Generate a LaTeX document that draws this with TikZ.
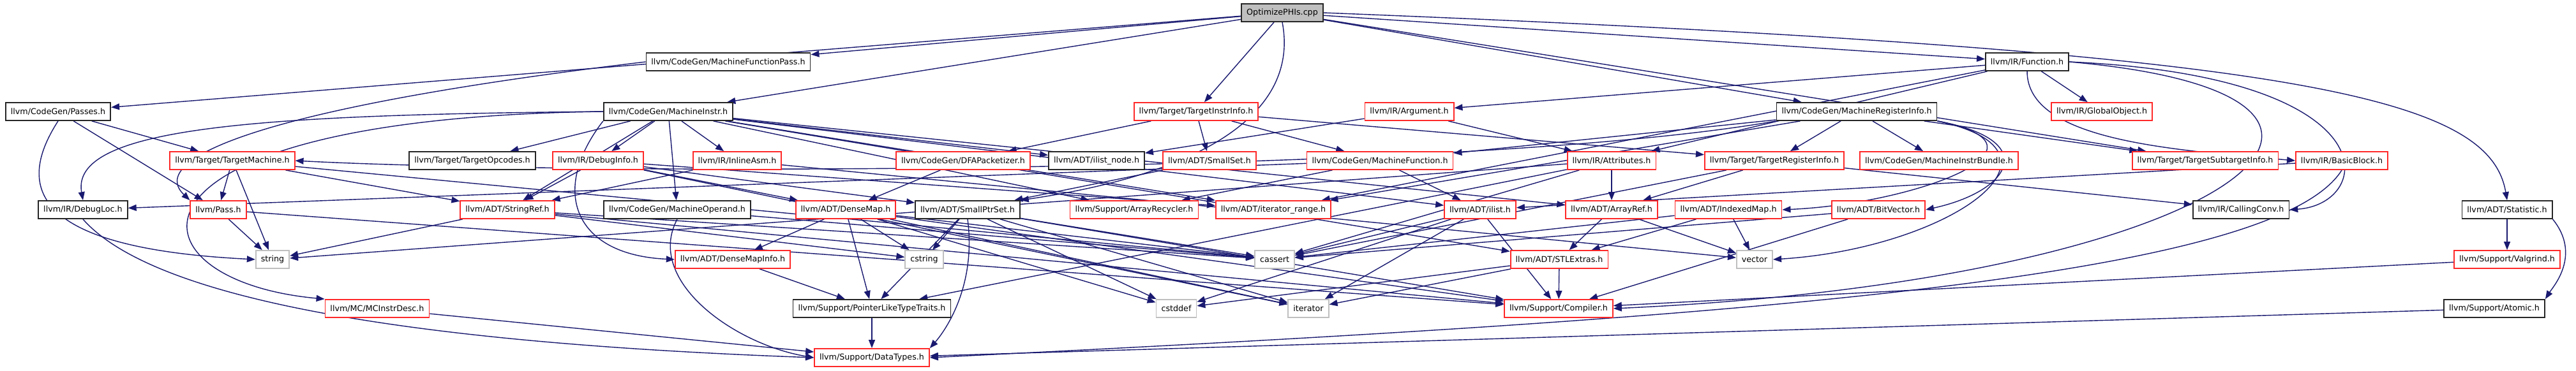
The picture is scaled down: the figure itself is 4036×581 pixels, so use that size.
\documentclass[tikz,border=0pt]{standalone}
\usepackage{fontspec}
\newfontfamily\doxfont{DejaVu Sans}
\usepackage{tikz}
\usetikzlibrary{
  arrows.meta,  % Triangle 箭头
  backgrounds   % 连线放到底层
}
\definecolor{edgeblue}{RGB}{25,25,112}
\definecolor{boxred}{RGB}{255,40,40}
\definecolor{boxgray}{RGB}{191,191,191}

\begin{document}
\begin{tikzpicture}[x=1pt, y=-1pt, >={Triangle[length=13pt,width=10pt]},
    hdr/.style={draw, line width=1.8pt, fill=white, minimum height=28pt,
      inner xsep=8pt, inner ysep=2pt,
      font=\doxfont\fontsize{12.7}{14}\selectfont},
    redhdr/.style={hdr, draw=boxred},
    blkhdr/.style={hdr, draw=black!85},
    syshdr/.style={hdr, draw=boxgray},
    srcfile/.style={hdr, draw=black!85, fill=boxgray},
    incl/.style={->, draw=edgeblue, line width=1.4pt}]
  % 各层的纵坐标
  \def\yA{20}
  \def\yB{97}
  \def\yC{175}
  \def\yD{252}
  \def\yE{329}
  \def\yF{407}
  \def\yG{484}
  \def\yH{561}
  \useasboundingbox (0,0) rectangle (4036,581);

  % --- 第一层：源文件 ---
  \node[srcfile] (root) at (2009,\yA) {OptimizePHIs.cpp};

  % --- 第二层 ---
  \node[blkhdr] (mfp)  at (1141,\yB) {llvm/CodeGen/MachineFunctionPass.h};
  \node[blkhdr] (func) at (3176,\yB) {llvm/IR/Function.h};

  % --- 第三层 ---
  \node[blkhdr] (passes) at (91,\yC)   {llvm/CodeGen/Passes.h};
  \node[blkhdr] (minstr) at (1047,\yC) {llvm/CodeGen/MachineInstr.h};
  \node[redhdr] (tii)    at (1874,\yC) {llvm/Target/TargetInstrInfo.h};
  \node[redhdr] (arg)    at (2208,\yC) {llvm/IR/Argument.h};
  \node[blkhdr] (mri)    at (2909,\yC) {llvm/CodeGen/MachineRegisterInfo.h};
  \node[redhdr] (gobj)   at (3293,\yC) {llvm/IR/GlobalObject.h};

  % --- 第四层 ---
  \node[redhdr] (tm)     at (364,\yD)  {llvm/Target/TargetMachine.h};
  \node[blkhdr] (topc)   at (740,\yD)  {llvm/Target/TargetOpcodes.h};
  \node[redhdr] (dinfo)  at (937,\yD)  {llvm/IR/DebugInfo.h};
  \node[redhdr] (iasm)   at (1155,\yD) {llvm/IR/InlineAsm.h};
  \node[redhdr] (dfa)    at (1509,\yD) {llvm/CodeGen/DFAPacketizer.h};
  \node[blkhdr] (ilnode) at (1718,\yD) {llvm/ADT/ilist\_node.h};
  \node[redhdr] (sset)   at (1895,\yD) {llvm/ADT/SmallSet.h};
  \node[redhdr] (mf)     at (2162,\yD) {llvm/CodeGen/MachineFunction.h};
  \node[redhdr] (attr)   at (2525,\yD) {llvm/IR/Attributes.h};
  \node[redhdr] (tri)    at (2780,\yD) {llvm/Target/TargetRegisterInfo.h};
  \node[redhdr] (mib)    at (3038,\yD) {llvm/CodeGen/MachineInstrBundle.h};
  \node[redhdr] (tsi)    at (3455,\yD) {llvm/Target/TargetSubtargetInfo.h};
  \node[redhdr] (bb)     at (3669,\yD) {llvm/IR/BasicBlock.h};

  % --- 第五层 ---
  \node[blkhdr] (dloc)   at (130,\yE)  {llvm/IR/DebugLoc.h};
  \node[redhdr] (pass)   at (342,\yE)  {llvm/Pass.h};
  \node[redhdr] (sref)   at (795,\yE)  {llvm/ADT/StringRef.h};
  \node[blkhdr] (mop)    at (1061,\yE) {llvm/CodeGen/MachineOperand.h};
  \node[redhdr] (dmap)   at (1325,\yE) {llvm/ADT/DenseMap.h};
  \node[blkhdr] (spset)  at (1516,\yE) {llvm/ADT/SmallPtrSet.h};
  \node[redhdr] (arec)   at (1777,\yE) {llvm/Support/ArrayRecycler.h};
  \node[redhdr] (irange) at (1995,\yE) {llvm/ADT/iterator\_range.h};
  \node[redhdr] (ilist)  at (2319,\yE) {llvm/ADT/ilist.h};
  \node[redhdr] (aref)   at (2525,\yE) {llvm/ADT/ArrayRef.h};
  \node[redhdr] (imap)   at (2708,\yE) {llvm/ADT/IndexedMap.h};
  \node[redhdr] (bvec)   at (2943,\yE) {llvm/ADT/BitVector.h};
  \node[blkhdr] (cconv)  at (3511,\yE) {llvm/IR/CallingConv.h};
  \node[blkhdr] (stat)   at (3928,\yE) {llvm/ADT/Statistic.h};

  % --- 第六层 ---
  \node[syshdr] (string)  at (427,\yF)  {string};
  \node[redhdr] (dmi)     at (1148,\yF) {llvm/ADT/DenseMapInfo.h};
  \node[syshdr] (cstring) at (1448,\yF) {cstring};
  \node[syshdr] (cassert) at (1997,\yF) {cassert};
  \node[redhdr] (stlx)    at (2443,\yF) {llvm/ADT/STLExtras.h};
  \node[syshdr] (vector)  at (2749,\yF) {vector};
  \node[redhdr] (valg)    at (3928,\yF) {llvm/Support/Valgrind.h};

  % --- 第七层 ---
  \node[redhdr] (mcid)     at (591,\yG)  {llvm/MC/MCInstrDesc.h};
  \node[blkhdr] (plt)      at (1366,\yG) {llvm/Support/PointerLikeTypeTraits.h};
  \node[syshdr] (cstddef)  at (1843,\yG) {cstddef};
  \node[syshdr] (iterator) at (2050,\yG) {iterator};
  \node[redhdr] (comp)     at (2442,\yG) {llvm/Support/Compiler.h};
  \node[blkhdr] (atomic)   at (3908,\yG) {llvm/Support/Atomic.h};

  % --- 第八层 ---
  \node[redhdr] (dtypes) at (1366,\yH) {llvm/Support/DataTypes.h};

  \begin{scope}[on background layer]
    % 直线连线
    \foreach \a/\b in {root/passes, root/mfp, root/minstr, root/tii, root/func,
        root/mri, root/tsi, passes/tm, passes/pass,
        tm/pass, tm/string, tm/sref, tm/cassert,
        minstr/topc, minstr/dinfo, minstr/iasm, minstr/sref, minstr/mop,
        minstr/ilnode, minstr/arec, minstr/irange, minstr/ilist, minstr/aref,
        minstr/stlx,
        tii/dfa, tii/sset, tii/mf, tii/tri,
        func/gobj, func/arg, func/attr, func/irange,
        mri/tri, mri/mib, mri/tsi, mri/mf, mri/irange,
        dinfo/sref, dinfo/dmap, dinfo/spset, dinfo/irange, dinfo/iterator,
        iasm/sref, iasm/vector, dfa/dmap, sset/spset,
        arg/ilnode, arg/attr, mf/ilist, mf/dloc, mf/arec,
        attr/aref, attr/cassert, attr/string, attr/plt,
        tri/aref, tri/cconv, tri/cassert, bb/ilist,
        pass/string, pass/comp,
        sref/string, sref/cstring, sref/cassert, sref/comp, mop/cassert,
        dmap/dmi, dmap/plt, dmap/cstring, dmap/cassert, dmap/cstddef,
        dmap/iterator, dmap/comp,
        spset/cstring, spset/plt, spset/cassert, spset/cstddef,
        spset/iterator, spset/comp,
        ilist/cassert, ilist/cstddef, ilist/iterator, ilist/comp,
        aref/stlx, aref/vector, imap/stlx, imap/vector, imap/cassert,
        bvec/cassert, bvec/comp, stat/valg, dmi/plt,
        stlx/comp, stlx/cstddef, stlx/iterator,
        plt/dtypes, mcid/dtypes, valg/comp, atomic/dtypes}
      \draw[incl] (\a) -- (\b);

    % 绕行的曲线
    \draw[incl] (root.south) .. controls (2035,170) and (1900,270) .. (spset.north east);
    \draw[incl] (root.east) .. controls (3600,80) and (3900,150) .. (stat.north);
    \draw[incl] (passes.south) .. controls (20,300) and (60,390) .. (string.west);
    \draw[incl] (mfp.west) .. controls (400,170) and (230,250) .. (pass.north west);
    \draw[incl] (minstr.west) .. controls (400,180) and (110,200) .. (dloc.north);
    \draw[incl] (minstr.west) .. controls (150,185) and (190,440) .. (mcid.north west);
    \draw[incl] (minstr.south west) .. controls (860,300) and (900,400) .. (dmi.west);
    \draw[incl] (mri.south west) .. controls (2300,275) and (900,275) .. (tm.east);
    \draw[incl] (mri.south east) .. controls (3200,220) and (3150,300) .. (bvec.east);
    \draw[incl] (mri.south east) .. controls (3240,230) and (3000,320) .. (imap.east);
    \draw[incl] (mri.south east) .. controls (3270,240) and (3050,390) .. (vector.east);
    \draw[incl] (func.south) .. controls (3176,220) and (3400,235) .. (bb.west);
    \draw[incl] (func.east) .. controls (3750,120) and (3720,320) .. (cconv.east);
    \draw[incl] (func.east) .. controls (3850,150) and (3500,440) .. (comp.east);
    \draw[incl] (bb.south) .. controls (3560,440) and (2700,500) .. (dtypes.east);
    \draw[incl] (spset.south) .. controls (1530,450) and (1480,520) .. (dtypes.north east);
    \draw[incl] (mop.south) .. controls (1010,440) and (1150,540) .. (dtypes.west);
    \draw[incl] (dloc.south) .. controls (250,480) and (700,540) .. (dtypes.west);
    \draw[incl] (stat.south east) .. controls (4045,400) and (4000,450) .. (atomic.north east);
  \end{scope}
\end{tikzpicture}
\end{document}
